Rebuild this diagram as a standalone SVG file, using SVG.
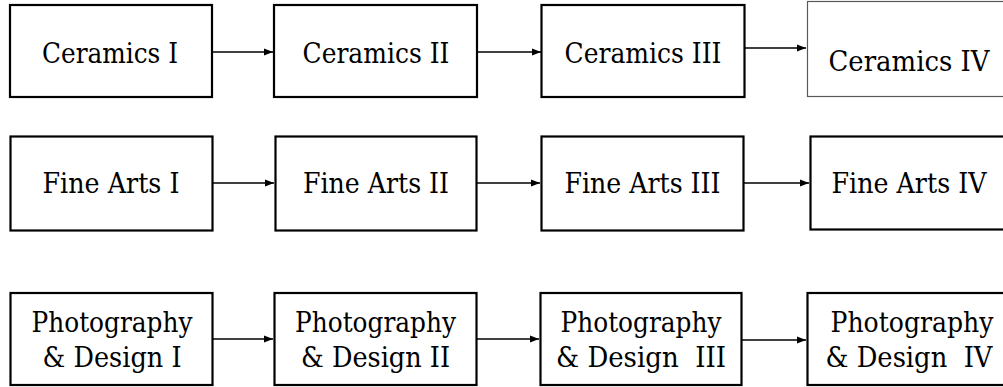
<svg xmlns="http://www.w3.org/2000/svg" width="1003" height="387" viewBox="0 0 1003 387">
<defs>
<style>
.box{fill:#fff;stroke:#000;stroke-width:2.2}
.thin{fill:#fff;stroke:#595959;stroke-width:1.2}
.t{font-family:"DejaVu Serif","Liberation Serif",serif;font-size:28.5px;fill:#000;text-anchor:middle;white-space:pre}
.c{stroke:#000;stroke-width:1.6;fill:none}
</style>
<marker id="ah" markerUnits="userSpaceOnUse" markerWidth="10" markerHeight="9" refX="9" refY="4.5" orient="auto">
<path d="M0,1 L9,4.5 L0,8 Z" fill="#000"/>
</marker>
</defs>
<rect width="1003" height="387" fill="#fff"/>
<g id="connectors">
<line class="c" x1="212" y1="52" x2="273" y2="52" marker-end="url(#ah)"/>
<line class="c" x1="477" y1="52" x2="541" y2="52" marker-end="url(#ah)"/>
<line class="c" x1="745" y1="48" x2="806" y2="48" marker-end="url(#ah)"/>
<line class="c" x1="213" y1="183" x2="274" y2="183" marker-end="url(#ah)"/>
<line class="c" x1="477" y1="183" x2="540" y2="183" marker-end="url(#ah)"/>
<line class="c" x1="744" y1="183" x2="809" y2="183" marker-end="url(#ah)"/>
<line class="c" x1="213" y1="339" x2="273" y2="339" marker-end="url(#ah)"/>
<line class="c" x1="477" y1="339" x2="539" y2="339" marker-end="url(#ah)"/>
<line class="c" x1="742" y1="340" x2="806" y2="340" marker-end="url(#ah)"/>
</g>
<g id="ceramics1"><rect class="box" x="10" y="5" width="202" height="92"/><text class="t" x="110" y="63" textLength="136" lengthAdjust="spacingAndGlyphs">Ceramics I</text></g>
<g id="ceramics2"><rect class="box" x="274" y="5" width="203" height="92"/><text class="t" x="376" y="63" textLength="147" lengthAdjust="spacingAndGlyphs">Ceramics II</text></g>
<g id="ceramics3"><rect class="box" x="541.5" y="5" width="203" height="92"/><text class="t" x="643" y="63" textLength="157" lengthAdjust="spacingAndGlyphs">Ceramics III</text></g>
<g id="ceramics4"><rect class="thin" x="807.5" y="1.5" width="197" height="95"/><text class="t" x="909" y="71" textLength="161" lengthAdjust="spacingAndGlyphs">Ceramics IV</text></g>
<g id="finearts1"><rect class="box" x="10.5" y="136.5" width="202" height="94"/><text class="t" x="111" y="193" textLength="137" lengthAdjust="spacingAndGlyphs">Fine Arts I</text></g>
<g id="finearts2"><rect class="box" x="275.5" y="136.5" width="201" height="94"/><text class="t" x="376" y="193" textLength="146" lengthAdjust="spacingAndGlyphs">Fine Arts II</text></g>
<g id="finearts3"><rect class="box" x="541.5" y="136.5" width="202" height="94"/><text class="t" x="642.5" y="193" textLength="156" lengthAdjust="spacingAndGlyphs">Fine Arts III</text></g>
<g id="finearts4"><rect class="box" x="810.5" y="136.5" width="195" height="93"/><text class="t" x="909" y="193" textLength="155" lengthAdjust="spacingAndGlyphs">Fine Arts IV</text></g>
<g id="photo1"><rect class="box" x="10.5" y="293" width="202" height="92"/><text class="t" x="112" y="332" textLength="161" lengthAdjust="spacingAndGlyphs">Photography</text><text class="t" x="112" y="367" textLength="139" lengthAdjust="spacingAndGlyphs">&amp; Design I</text></g>
<g id="photo2"><rect class="box" x="274.5" y="293" width="202" height="92"/><text class="t" x="375.5" y="332" textLength="161" lengthAdjust="spacingAndGlyphs">Photography</text><text class="t" x="375.5" y="367" textLength="149" lengthAdjust="spacingAndGlyphs">&amp; Design II</text></g>
<g id="photo3"><rect class="box" x="540.5" y="293" width="201" height="92"/><text class="t" x="641" y="332" textLength="161" lengthAdjust="spacingAndGlyphs">Photography</text><text class="t" x="641" y="367" textLength="170" lengthAdjust="spacingAndGlyphs">&amp; Design  III</text></g>
<g id="photo4"><rect class="box" x="807.5" y="293" width="198" height="92"/><text class="t" x="912" y="332" textLength="163" lengthAdjust="spacingAndGlyphs">Photography</text><text class="t" x="909" y="367" textLength="167" lengthAdjust="spacingAndGlyphs">&amp; Design  IV</text></g>
</svg>
